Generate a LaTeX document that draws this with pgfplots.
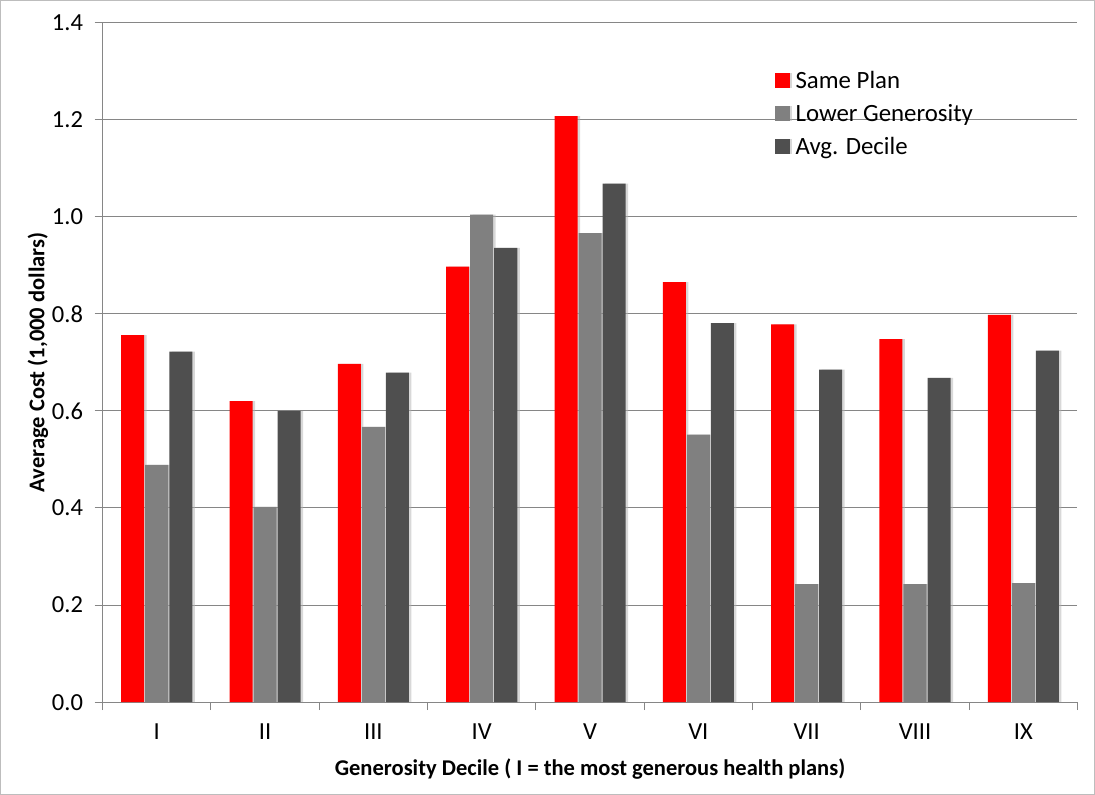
\documentclass[border=0pt]{standalone}
\usepackage{fontspec}
\setmainfont{Carlito}
\usepackage{pgfplots}
\usepackage{pgfplotstable}
\pgfplotsset{compat=1.18}
\usetikzlibrary{shadows}
\definecolor{cRed}{HTML}{FF0000}
\definecolor{cGray}{HTML}{808080}
\definecolor{cDark}{HTML}{4F4F4F}
\definecolor{axisgray}{HTML}{868686}
\definecolor{framegray}{HTML}{BDBDBD}
\pgfplotstableread{
x same lower avg
1 0.756 0.489 0.722
2 0.620 0.402 0.600
3 0.697 0.567 0.679
4 0.897 1.004 0.936
5 1.207 0.966 1.068
6 0.865 0.551 0.781
7 0.778 0.243 0.685
8 0.748 0.243 0.668
9 0.798 0.245 0.724
}\datatable
\begin{document}
\begin{tikzpicture}
\begin{axis}[
  scale only axis, width=974pt, height=679pt,
  xmin=0.5, xmax=9.5, ymin=0, ymax=1.4,
  font=\fontsize{24.5}{29}\selectfont,
  /pgf/number format/assume math mode=true,
  ytick={0,0.2,0.4,0.6,0.8,1.0,1.2,1.4},
  yticklabel style={xshift=-8pt, /pgf/number format/fixed, /pgf/number format/fixed zerofill, /pgf/number format/precision=1},
  xtick={1,2,3,4,5,6,7,8,9},
  xticklabels={I,II,III,IV,V,VI,VII,VIII,IX},
  minor xtick={0.5,1.5,2.5,3.5,4.5,5.5,6.5,7.5,8.5,9.5},
  axis x line*=bottom, axis y line*=left,
  axis line style={draw=axisgray, line width=1pt, -},
  tick align=outside,
  major tick length=8pt, minor tick length=8pt,
  major x tick style={draw=none},
  minor x tick style={draw=axisgray, line width=1pt},
  major y tick style={draw=axisgray, line width=1pt},
  ymajorgrids, grid style={draw=axisgray, line width=1pt},
  xticklabel style={yshift=-10pt},
  xlabel={\bfseries Generosity Decile ( I = the most generous health plans)},
  ylabel={\bfseries Average Cost (1,000 dollars)},
  xlabel style={font=\fontsize{22.5}{27}\selectfont, yshift=-12pt},
  ylabel style={font=\fontsize{22.5}{27}\selectfont, yshift=-3pt},
  ybar=1pt, bar width=23pt,
  legend style={at={(0.686,0.935)}, anchor=north west, draw=none, fill=none,
    font=\fontsize{24.8}{29}\selectfont, row sep=10.5pt, cells={anchor=west},
    /tikz/every odd column/.append style={column sep=4pt}},
  legend image code/.code={\fill[#1] (0pt,-7.5pt) rectangle (15pt,7.5pt);},
]
\addplot[fill=cRed, draw=none, drop shadow={shadow xshift=2.5pt, shadow yshift=0pt, fill=black!30, opacity=0.5}] table[x=x,y=same] {\datatable};
\addplot[fill=cGray, draw=none, drop shadow={shadow xshift=2.5pt, shadow yshift=0pt, fill=black!30, opacity=0.5}] table[x=x,y=lower] {\datatable};
\addplot[fill=cDark, draw=none, drop shadow={shadow xshift=2.5pt, shadow yshift=0pt, fill=black!30, opacity=0.5}] table[x=x,y=avg] {\datatable};
\legend{Same Plan, Lower Generosity, Avg. Decile}
\end{axis}
\draw[framegray, line width=1pt] ([shift={(-102pt,-92pt)}]current axis.south west) rectangle ([shift={(17pt,22pt)}]current axis.north east);
\end{tikzpicture}
\end{document}
